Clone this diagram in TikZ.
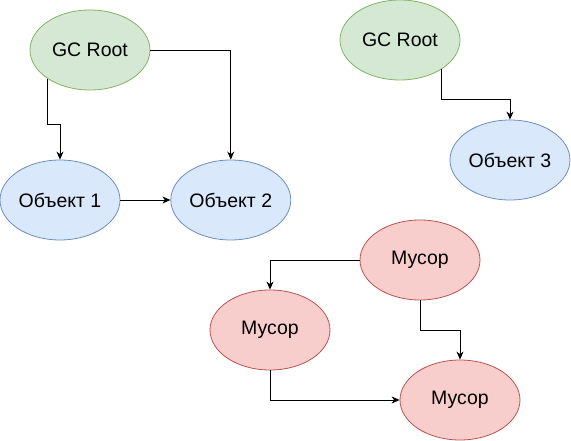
\documentclass[tikz,border=0pt]{standalone}
\usepackage{fontspec}
\setmainfont{Liberation Sans}
\usepackage{tikz}
\usetikzlibrary{positioning,shapes,arrows.meta}

\definecolor{rootfill}{HTML}{D5E8D4}
\definecolor{rootline}{HTML}{82B366}
\definecolor{objfill}{HTML}{DAE8FC}
\definecolor{objline}{HTML}{6C8EBF}
\definecolor{trashfill}{HTML}{F8CECC}
\definecolor{trashline}{HTML}{B85450}

\begin{document}
\begin{tikzpicture}[x=1pt,y=-1pt,
	blob/.style={ellipse,minimum width=120pt,minimum height=80pt,inner sep=0pt,line width=0.8pt,font=\fontsize{19.5}{22}\selectfont},
	root/.style={blob,fill=rootfill,draw=rootline},
	obj/.style={blob,fill=objfill,draw=objline},
	trash/.style={blob,fill=trashfill,draw=trashline},
	link/.style={line width=0.9pt,-{Stealth[length=8pt,width=7pt,inset=2.5pt]}}]
				\useasboundingbox (0,0) rectangle (571,441);
				
				\node[root] (root1) at (90,50) {GC Root};
				\node[obj] (obj1) at (60,200) {Объект 1};
				\node[obj] (obj2) [right=50pt of obj1] {Объект 2};
				
				\node[root] (root2) at (400,40) {GC Root};
				\node[obj] (obj3) at (510,160) {Объект 3};
				
				\node[trash] (trash1) at (420,260) {Мусор};
				\node[trash] (trash2) at (270,330) {Мусор};
				\node[trash] (trash3) at (460,400) {Мусор};
				
				\draw[link] (root1.214) -- ++(0,46) -| (obj1.north);
				\draw[link] (root1.east) -| (obj2.north);
				\draw[link] (obj1.east) -- (obj2.west);
				\draw[link] (root2.-35) -- ++(0,30) -| (obj3.north);
				\draw[link] (trash1.west) -| (trash2.north);
				\draw[link] (trash1.south) -- ++(0,30) -| (trash3.north);
				\draw[link] (trash2.south) |- (trash3.west);
			\end{tikzpicture}
\end{document}
